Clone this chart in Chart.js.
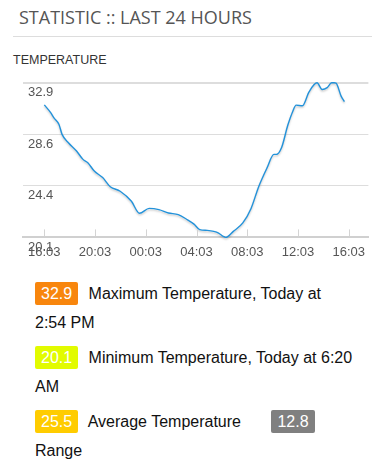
<!DOCTYPE html>
<html>
<head>
<meta charset="utf-8">
<script src="https://cdn.jsdelivr.net/npm/chart.js@4.4.0/dist/chart.umd.min.js"></script>
<style>
    body { margin: 0; width: 383px; height: 470px; overflow: hidden; background: #fff; position: relative; }
    .title { position: absolute; left: 19px; top: 5px; margin: 0; font: 18px "Open Sans", sans-serif; color: #555; line-height: 24px; }
    .rule { position: absolute; left: 13px; top: 36px; width: 359px; height: 0; border-top: 1px solid #ddd; }
    .label { position: absolute; left: 13px; top: 53px; font: 12.5px "Liberation Sans", Arial, sans-serif; color: #333; }
    .chart-box { position: absolute; left: 13px; top: 70px; width: 359px; height: 197px; }
    .stats { position: absolute; left: 35px; top: 279px; font: 16px "Liberation Sans", Arial, sans-serif; color: #111; }
    .row { line-height: 29px; margin-bottom: 6px; white-space: nowrap; }
    .badge { display: inline-block; color: #fff; padding: 0 6px; line-height: 23px; border-radius: 2px; margin-right: 6px; }
</style>
</head>
<body>
<h1 class="title">STATISTIC :: LAST 24 HOURS</h1>
<div class="rule"></div>
<div class="label">TEMPERATURE</div>
<div class="chart-box"><canvas id="tempChart" width="359" height="197"></canvas></div>
<div class="stats">
    <div class="row"><span class="badge" id="b-max" style="background:#f8860d"></span> Maximum Temperature, Today at<br>2:54 PM</div>
    <div class="row"><span class="badge" id="b-min" style="background:#e2fb00"></span> Minimum Temperature, Today at 6:20<br>AM</div>
    <div class="row"><span class="badge" id="b-avg" style="background:#ffcc00"></span> Average Temperature <span class="badge" id="b-range" style="background:#808080; margin-left:26px"></span><br>Range</div>
</div>
<script>
// hours after 16:03 yesterday
const hours = [0, 0.5, 0.76, 1.15, 1.4, 1.9, 2.54, 3.05, 3.43, 3.94, 4.6, 5.2, 5.98, 6.87, 7.5,
    8.27, 9.03, 9.79, 10.56, 11.3, 11.8, 12.25, 12.85, 13.36, 13.74, 14.1, 14.3, 14.9, 15.65,
    16.3, 16.9, 17.56, 18.1, 18.3, 18.7, 19.2, 19.6, 19.85, 20.35, 20.87, 21.5, 21.9, 22.3,
    22.65, 22.85, 23.0, 23.4, 23.66];
const temps = [31.07, 30.43, 30.0, 29.47, 28.63, 27.94, 27.25, 26.56, 26.28, 25.59, 25.05, 24.3, 23.92, 23.09, 22.1,
    22.5, 22.4, 22.12, 21.98, 21.55, 21.2, 20.75, 20.68, 20.6, 20.46, 20.18, 20.1, 20.6, 21.3,
    22.5, 24.3, 25.86, 26.97, 26.97, 27.52, 29.4, 30.57, 31.05, 31.0, 32.15, 32.9, 32.35, 32.5,
    32.9, 32.9, 32.87, 31.8, 31.35];

const xTickHours = [0, 4, 8, 12, 16, 20, 24];
const xTickLabels = ['16:03', '20:03', '00:03', '04:03', '08:03', '12:03', '16:03'];
const yTickValues = [20.1, 24.4, 28.6, 32.9];

const statLabels = ['max', 'min', 'avg', 'range'];
const statValues = [32.9, 20.1, 25.5, 12.8];

statLabels.forEach((k, i) => {
    document.getElementById('b-' + k).textContent = statValues[i].toFixed(1);
});

// small upward tick marks on the bottom axis
const tickMarks = {
    id: 'tickMarks',
    afterDraw(chart) {
        const x = chart.scales.x;
        const ctx = chart.ctx;
        ctx.save();
        ctx.strokeStyle = '#d4d4d4';
        ctx.lineWidth = 1;
        x.ticks.forEach(t => {
            const px = Math.round(x.getPixelForValue(t.value)) + 0.5;
            ctx.beginPath();
            ctx.moveTo(px, x.top - 1);
            ctx.lineTo(px, x.top - 8);
            ctx.stroke();
        });
        ctx.restore();
    }
};

const lineShadow = {
    id: 'lineShadow',
    beforeDatasetsDraw(chart) {
        const ctx = chart.ctx;
        ctx.save();
        ctx.shadowColor = 'rgba(0,0,0,0.22)';
        ctx.shadowBlur = 2;
        ctx.shadowOffsetY = 1.5;
    },
    afterDatasetsDraw(chart) {
        chart.ctx.restore();
    }
};

new Chart(document.getElementById('tempChart'), {
    type: 'line',
    data: {
        datasets: [{
            data: hours.map((h, i) => ({ x: h, y: temps[i] })),
            borderColor: '#2392da',
            borderWidth: 1.4,
            pointRadius: 0,
            cubicInterpolationMode: 'monotone',
            fill: false,
            clip: 6
        }]
    },
    options: {
        responsive: false,
        animation: false,
        devicePixelRatio: 1,
        layout: { padding: { top: 12, left: 0, right: 0, bottom: 0 } },
        plugins: { legend: { display: false }, tooltip: { enabled: false } },
        scales: {
            x: {
                type: 'linear',
                min: -1.68,
                max: 25.55,
                afterBuildTicks: axis => { axis.ticks = xTickHours.map(v => ({ value: v })); },
                ticks: {
                    autoSkip: false,
                    maxRotation: 0,
                    padding: 7,
                    color: '#555',
                    font: { family: 'Liberation Sans', size: 13 },
                    callback: (v, i) => xTickLabels[i]
                },
                grid: { display: false, drawTicks: false },
                border: { display: true, color: '#d0d0d0', width: 2 }
            },
            y: {
                min: 20.1,
                max: 32.9,
                afterBuildTicks: axis => { axis.ticks = yTickValues.map(v => ({ value: v })); },
                ticks: {
                    mirror: true,
                    padding: 5,
                    labelOffset: 10,
                    color: '#555',
                    font: { family: 'Liberation Sans', size: 13 },
                    callback: v => v.toFixed(1)
                },
                grid: {
                    color: '#dddddd',
                    drawTicks: false,
                    lineWidth: c => (c.index === yTickValues.length - 1 ? 2 : 1)
                },
                border: { display: false }
            }
        }
    },
    plugins: [tickMarks, lineShadow]
});
</script>
</body>
</html>
